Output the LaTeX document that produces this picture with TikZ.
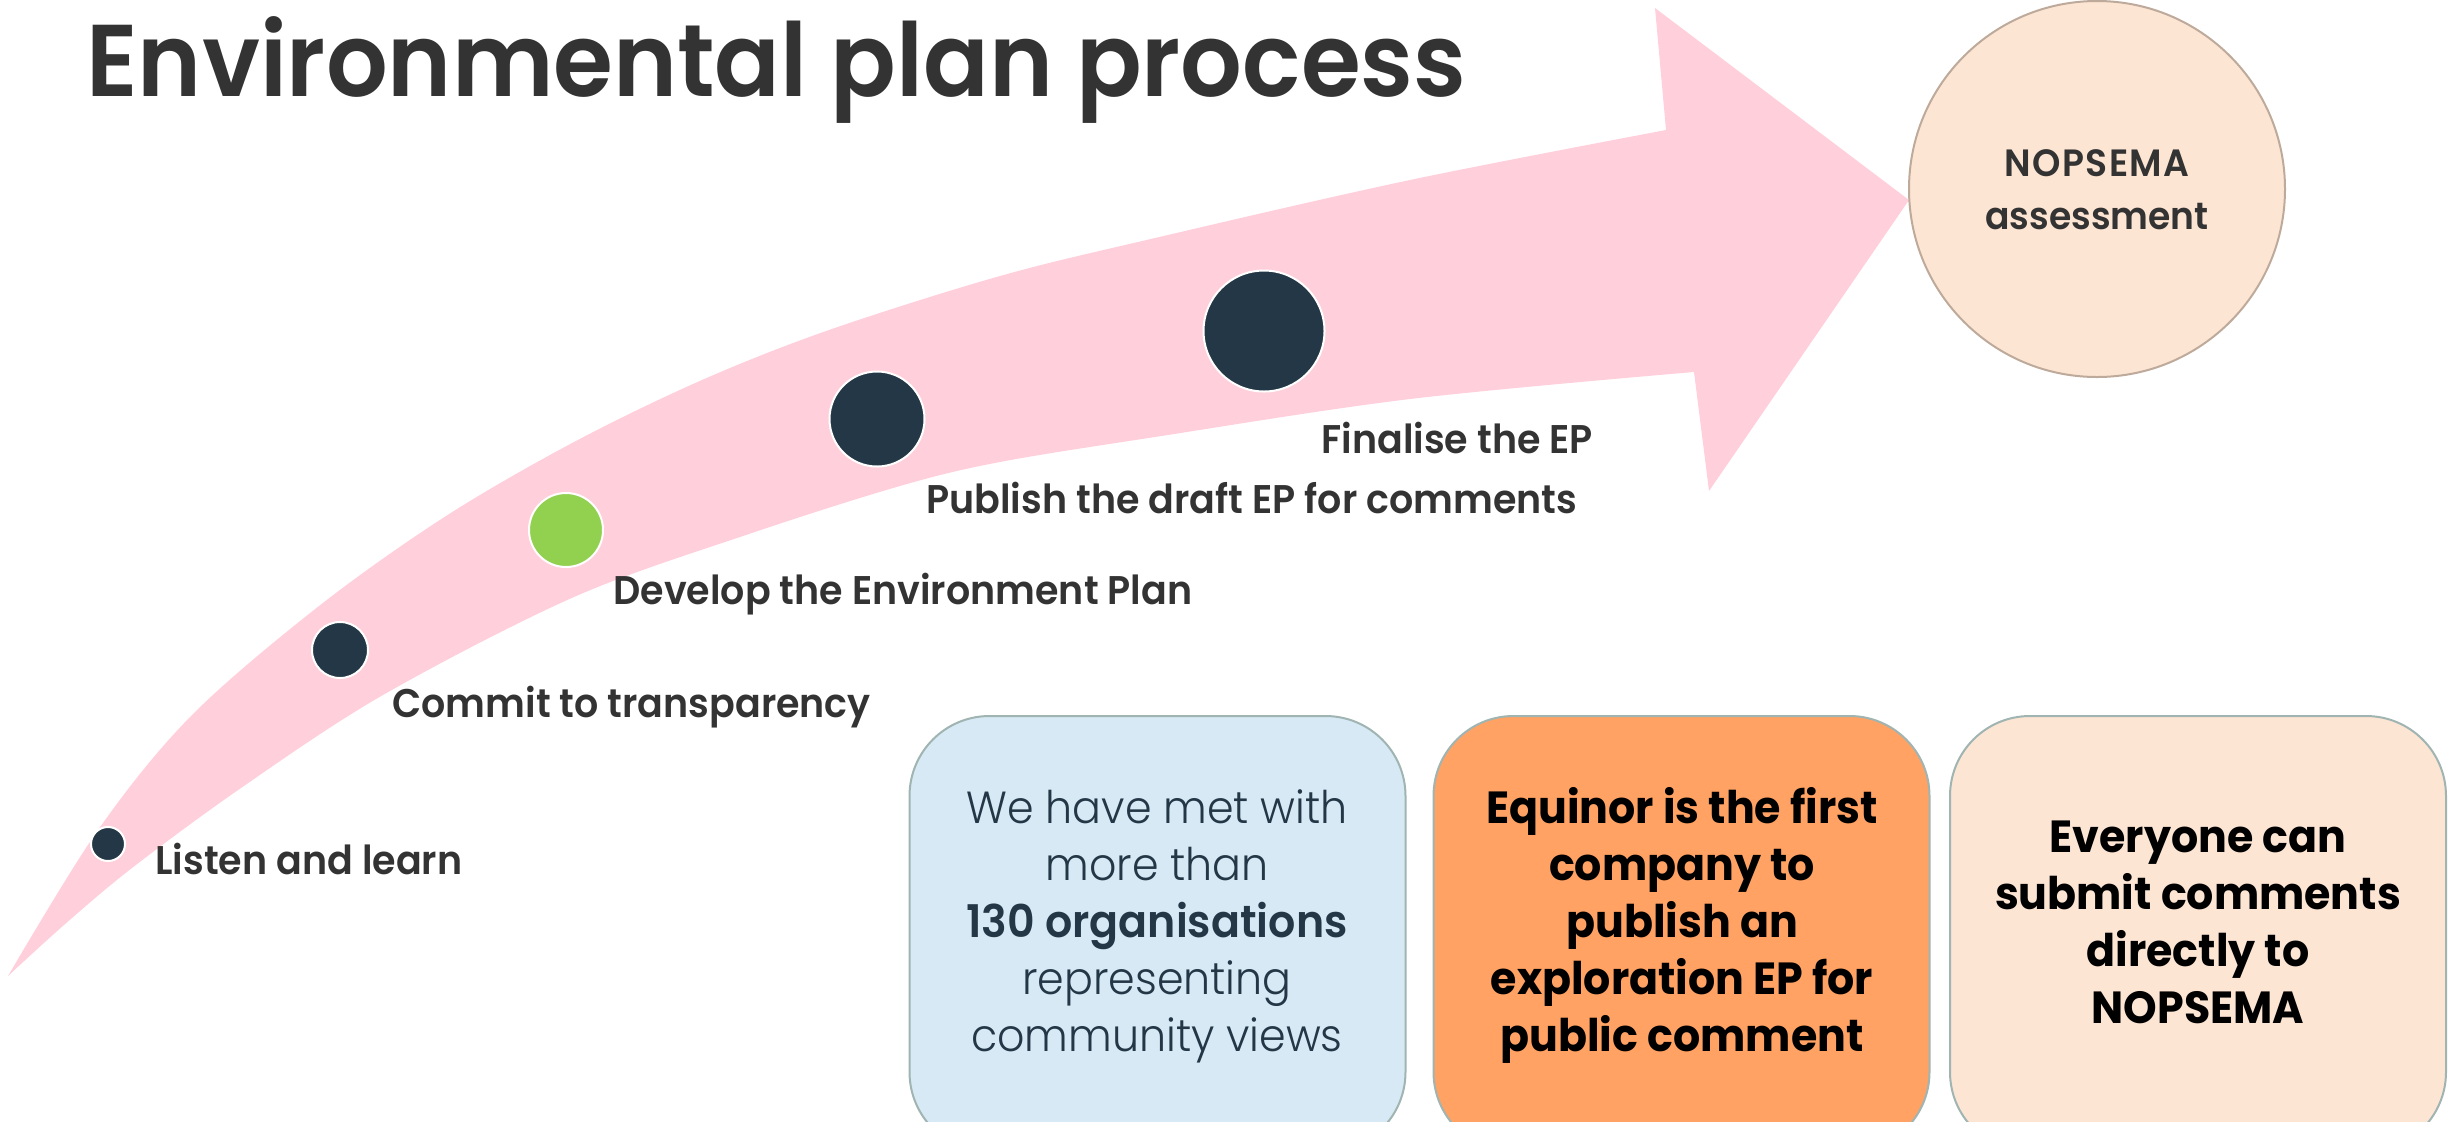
\documentclass[tikz,border=0pt]{standalone}
\usepackage{fontspec}
\setmainfont{Poppins}[FakeStretch=0.95]
\IfFontExistsTF{Poppins SemiBold}
  {\newfontfamily\semifont{Poppins SemiBold}[FakeStretch=0.95]}
  {\newcommand\semifont{\bfseries}}
\IfFontExistsTF{Poppins Light}
  {\newfontfamily\lightfont{Poppins Light}[FakeStretch=0.95]}
  {\newcommand\lightfont{\mdseries}}
\definecolor{arrowpink}{RGB}{255,208,220}
\definecolor{navy}{RGB}{36,55,70}
\definecolor{leaf}{RGB}{146,208,80}
\definecolor{ink}{RGB}{51,51,51}
\definecolor{peach}{RGB}{253,229,212}
\definecolor{peachline}{RGB}{190,170,155}
\definecolor{skyfill}{RGB}{214,233,245}
\definecolor{orangefill}{RGB}{255,162,99}
\definecolor{boxline}{RGB}{160,180,178}
\tikzset{
  dot/.style={circle, draw=white, line width=1pt, inner sep=0pt},
  steplabel/.style={anchor=base west, inner sep=0pt, text=ink, font=\semifont\fontsize{20}{24}\selectfont},
  infobox/.style={rectangle, rounded corners=40pt, draw=boxline, line width=1pt, minimum width=248pt, minimum height=218pt, inner sep=0pt},
  infotext/.style={align=center, inner sep=0pt, font=\fontsize{22.5}{28.5}\selectfont},
}
\begin{document}
\begin{tikzpicture}[x=0.5pt,y=-0.5pt]
\useasboundingbox (0,0) rectangle (2458,1121);
\clip (0,0) rectangle (2458,1121);
% curved arrow
\fill[arrowpink] plot[smooth, tension=0.55] coordinates {(8,976) (98,830) (191,716) (319,606) (446,516) (574,442) (702,380) (829,330) (1000,276) (1155,238) (1410,180) (1666,130)}
  -- (1655,8) -- (1909,200) -- (1709,491) -- (1694,372)
  -- plot[smooth, tension=0.55] coordinates {(1694,372) (1410,399) (1155,437) (1000,462) (900,486) (746,535) (574,597) (383,695) (241,788) (132,868) (64,925) (8,976)} -- cycle;
% title
\node[anchor=base west, inner sep=0pt, text=ink, font=\semifont\fontsize{51}{60}\selectfont] (title) at (86,96) {Environmental plan process};
% assessment circle
\node[circle, fill=peach, draw=peachline, line width=1pt, minimum size=188pt, inner sep=0pt] (nopsema) at (2097,189) {};
\node[align=center, inner sep=0pt, text=ink, font=\semifont\fontsize{19}{26.5}\selectfont] (nopsematext) at (2097,190) {{\addfontfeature{LetterSpace=4}NOPSEMA}\\assessment};
% steps
\node[dot, fill=navy, minimum size=17pt] (d1) at (108,844) {};
\node[dot, fill=navy, minimum size=28pt] (d2) at (340,650) {};
\node[dot, fill=leaf, minimum size=37pt] (d3) at (566,530) {};
\node[dot, fill=navy, minimum size=47.5pt] (d4) at (877,419) {};
\node[dot, fill=navy, minimum size=60.5pt] (d5) at (1264,331) {};
\node[steplabel] (l1) at (155,874) {Listen and learn};
\node[steplabel] (l2) at (392,717) {Commit to transparency};
\node[steplabel] (l3) at (613,604) {Develop the Environment Plan};
\node[steplabel] (l4) at (926,513) {Publish the draft EP for comments};
\node[steplabel] (l5) at (1321,453) {Finalise the EP};
% boxes
\node[infobox, fill=skyfill] (b1) at (1157.5,934) {};
\node[infobox, fill=orangefill] (b2) at (1681.5,934) {};
\node[infobox, fill=peach] (b3) at (2198,934) {};
\node[infotext, text=navy, font=\lightfont\fontsize{22.5}{28.5}\selectfont] (t1) at (1157,926) {We have met with\\more than\\{\semifont 130 organisations}\\representing\\community views};
\node[infotext, text=black, font=\bfseries\fontsize{22.5}{28.5}\selectfont] (t2) at (1682,925) {Equinor is the first\\company to\\publish an\\exploration EP for\\public comment};
\node[infotext, text=black, font=\bfseries\fontsize{22.5}{28.5}\selectfont] (t3) at (2198,922) {Everyone can\\submit comments\\directly to\\NOPSEMA};
\end{tikzpicture}
\end{document}
